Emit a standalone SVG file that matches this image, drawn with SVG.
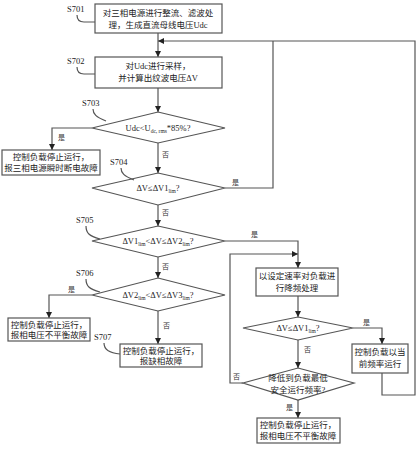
<svg xmlns="http://www.w3.org/2000/svg" width="418" height="450" viewBox="0 0 418 450">
<style>
.box{fill:#fff;stroke:#555;stroke-width:1.2}
.ln{fill:none;stroke:#555;stroke-width:1.2}
.t{font-family:"Liberation Serif","Noto Sans CJK SC",serif;font-size:8.5px;fill:#222;text-anchor:middle}
.lb{font-family:"Liberation Serif","Noto Sans CJK SC",serif;font-size:8.5px;fill:#222}
.yn{font-family:"Noto Sans CJK SC",serif;font-size:7px;fill:#333}
.sub{font-size:5.5px}
</style>
<defs>
<marker id="ar" viewBox="0 0 10 10" refX="10" refY="5" markerWidth="6" markerHeight="7" orient="auto" markerUnits="userSpaceOnUse"><path d="M0,0 L10,5 L0,10 z" fill="#222"/></marker>
</defs>
<g id="connectors">
<path class="ln" d="M158,33 V57" marker-end="url(#ar)"/>
<path class="ln" d="M158,88 V112" marker-end="url(#ar)"/>
<path class="ln" d="M92,128 H52 V150" marker-end="url(#ar)"/>
<path class="ln" d="M158,143 V173" marker-end="url(#ar)"/>
<path class="ln" d="M225,188 H273 V41"/>
<path class="ln" d="M382,373 V395 H415 V41 H158" marker-end="url(#ar)"/>
<path class="ln" d="M158,205 V226" marker-end="url(#ar)"/>
<path class="ln" d="M225,241 H298 V268" marker-end="url(#ar)"/>
<path class="ln" d="M158,257 V278" marker-end="url(#ar)"/>
<path class="ln" d="M92,295 H49 V318" marker-end="url(#ar)"/>
<path class="ln" d="M158,311 V344" marker-end="url(#ar)"/>
<path class="ln" d="M298,296 V317" marker-end="url(#ar)"/>
<path class="ln" d="M353,328 H382 V344" marker-end="url(#ar)"/>
<path class="ln" d="M298,340 V368" marker-end="url(#ar)"/>
<path class="ln" d="M243,383 H230 V254 H298" marker-end="url(#ar)"/>
<path class="ln" d="M298,400 V418" marker-end="url(#ar)"/>
<text class="yn" x="58" y="140">是</text>
<text class="yn" x="162" y="157">否</text>
<text class="yn" x="232" y="185">是</text>
<text class="yn" x="162" y="215">否</text>
<text class="yn" x="251" y="237">是</text>
<text class="yn" x="162" y="269">否</text>
<text class="yn" x="68" y="292">是</text>
<text class="yn" x="163" y="328">否</text>
<text class="yn" x="363" y="325">是</text>
<text class="yn" x="304" y="352">否</text>
<text class="yn" x="233" y="379">否</text>
<text class="yn" x="286" y="410">是</text>
</g>
<g id="S701">
<rect class="box" x="95" y="4" width="127" height="29"/>
<text class="t" x="158" y="16">对三相电源进行整流、滤波处</text>
<text class="t" x="158" y="28">理，生成直流母线电压Udc</text>
<text class="lb" x="67" y="12">S701</text>
<path class="ln" d="M77,15 C77,20 79,22 84,22 H95" stroke-width="0.8"/>
</g>
<g id="S702">
<rect class="box" x="95" y="57" width="127" height="31"/>
<text class="t" x="158" y="69">对Udc进行采样，</text>
<text class="t" x="158" y="81">并计算出纹波电压ΔV</text>
<text class="lb" x="67" y="64">S702</text>
<path class="ln" d="M77,67 C77,72 79,74 84,74 H95" stroke-width="0.8"/>
</g>
<g id="S703">
<polygon class="box" points="158,112 225,128 158,143 92,128"/>
<text class="t" x="158" y="131">Udc&lt;U<tspan class="sub" dy="1.5">dc, rms</tspan><tspan dy="-1.5">*85%?</tspan></text>
<text class="lb" x="82" y="106">S703</text>
<path class="ln" d="M93,109 C93,114 96,117 106,121" stroke-width="0.8"/>
</g>
<g id="fault1">
<rect class="box" x="2" y="150" width="98" height="25"/>
<text class="t" x="51" y="160">控制负载停止运行，</text>
<text class="t" x="51" y="171">报三相电源瞬时断电故障</text>
</g>
<g id="S704">
<polygon class="box" points="158,173 225,188 158,205 92,188"/>
<text class="t" x="158" y="191">ΔV≤ΔV1<tspan class="sub" dy="1.5">lim</tspan><tspan dy="-1.5">?</tspan></text>
<text class="lb" x="110" y="165">S704</text>
<path class="ln" d="M121,168 C121,173 124,176 134,180" stroke-width="0.8"/>
</g>
<g id="S705">
<polygon class="box" points="158,226 225,241 158,257 92,241"/>
<text class="t" x="158" y="244">ΔV1<tspan class="sub" dy="1.5">lim</tspan><tspan dy="-1.5">&lt;ΔV≤ΔV2</tspan><tspan class="sub" dy="1.5">lim</tspan><tspan dy="-1.5">?</tspan></text>
<text class="lb" x="76" y="223">S705</text>
<path class="ln" d="M86,226 C86,233 89,236 100,239" stroke-width="0.8"/>
</g>
<g id="S706">
<polygon class="box" points="158,278 225,295 158,311 92,295"/>
<text class="t" x="158" y="298">ΔV2<tspan class="sub" dy="1.5">lim</tspan><tspan dy="-1.5">&lt;ΔV≤ΔV3</tspan><tspan class="sub" dy="1.5">lim</tspan><tspan dy="-1.5">?</tspan></text>
<text class="lb" x="76" y="276">S706</text>
<path class="ln" d="M86,279 C86,286 89,289 100,292" stroke-width="0.8"/>
</g>
<g id="fault2">
<rect class="box" x="8" y="318" width="82" height="23"/>
<text class="t" x="49" y="328">控制负载停止运行，</text>
<text class="t" x="49" y="338">报相电压不平衡故障</text>
</g>
<g id="S707">
<rect class="box" x="120" y="344" width="82" height="23"/>
<text class="t" x="161" y="354">控制负载停止运行，</text>
<text class="t" x="161" y="364">报缺相故障</text>
<text class="lb" x="94" y="340">S707</text>
<path class="ln" d="M104,343 C104,349 108,353 120,354" stroke-width="0.8"/>
</g>
<g id="derate">
<rect class="box" x="256" y="268" width="82" height="28"/>
<text class="t" x="297" y="279">以设定速率对负载进</text>
<text class="t" x="297" y="291">行降频处理</text>
</g>
<g id="check1">
<polygon class="box" points="298,317 353,328 298,340 243,328"/>
<text class="t" x="298" y="331">ΔV≤ΔV1<tspan class="sub" dy="1.5">lim</tspan><tspan dy="-1.5">?</tspan></text>
</g>
<g id="run">
<rect class="box" x="352" y="344" width="56" height="29"/>
<text class="t" x="380" y="355">控制负载以当</text>
<text class="t" x="380" y="367">前频率运行</text>
</g>
<g id="check2">
<polygon class="box" points="298,368 354,383 298,400 243,383"/>
<text class="t" x="298" y="381">降低到负载最低</text>
<text class="t" x="298" y="393">安全运行频率?</text>
</g>
<g id="fault3">
<rect class="box" x="257" y="418" width="83" height="25"/>
<text class="t" x="298" y="428">控制负载停止运行，</text>
<text class="t" x="298" y="439">报相电压不平衡故障</text>
</g>
</svg>
